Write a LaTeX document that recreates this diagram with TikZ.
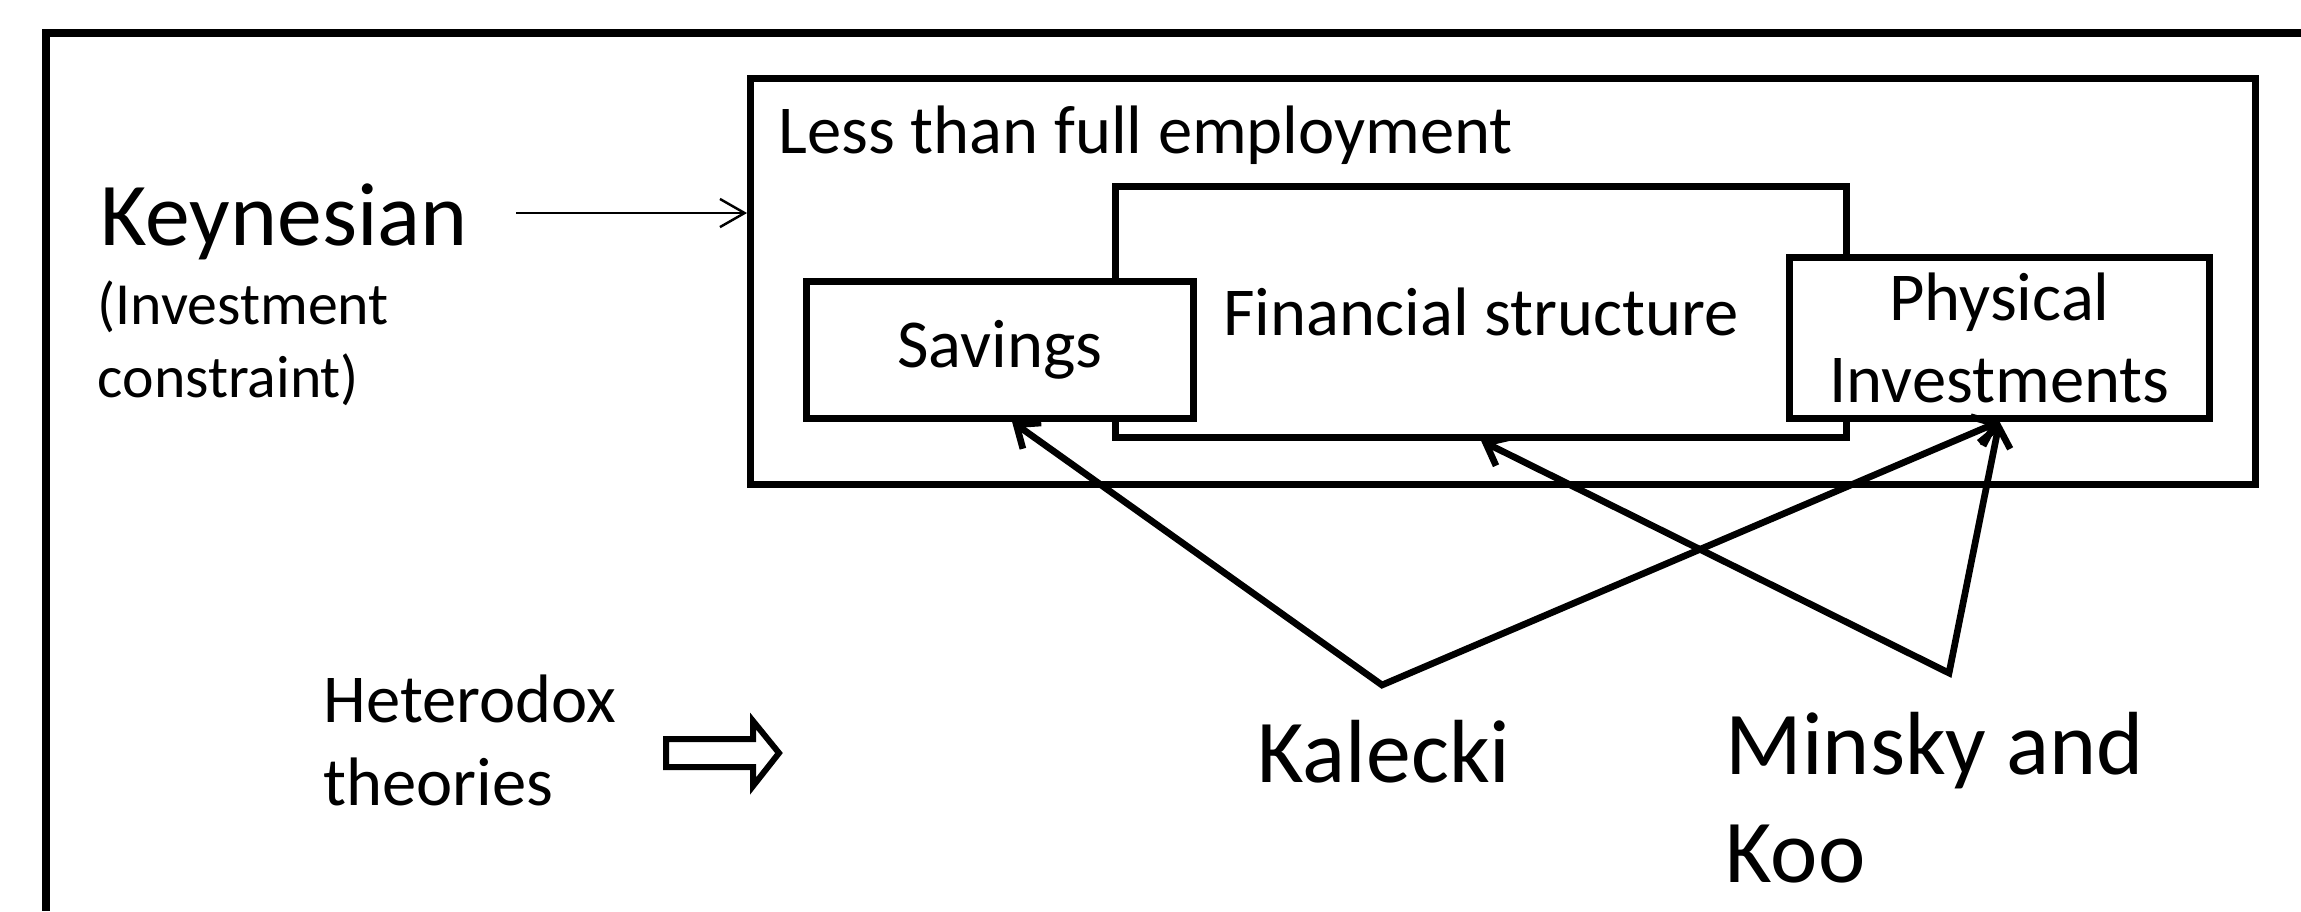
\documentclass[tikz,border=0pt]{standalone}
\usepackage{fontspec}
\setmainfont{Carlito}
\usetikzlibrary{arrows.meta,positioning,calc}
\tikzset{
flow/.style={x=0.01cm,y=-0.01cm,>={Straight Barb[length=5.5pt,width=9pt]},
line join=miter},
frame box/.style={draw,line width=2pt,inner sep=0pt},
theory box/.style={draw,fill=white,line width=2pt,align=center,inner sep=0pt,
font=\fontsize{19.5}{23.4}\selectfont},
big text/.style={inner sep=0pt,align=left,font=\fontsize{25.5}{30.6}\selectfont},
mid text/.style={inner sep=0pt,align=left,font=\fontsize{19.5}{23.4}\selectfont},
small text/.style={inner sep=0pt,align=left,font=\fontsize{17}{20.5}\selectfont},
link/.style={<->,line width=1.9pt},
}

\begin{document}
\begin{tikzpicture}[flow]
    \useasboundingbox (0,0) rectangle (2301,911);
    % outer frame, runs off to the right and bottom
    \draw[line width=2.1pt] (2301,33) -- (46,33) -- (46,911);

    \node[frame box,minimum width=15.04cm,minimum height=4.05cm] (lfe) at (1503,281.5) {};
    \node[mid text,anchor=base west,xshift=3.1mm,yshift=-7.8mm] (lfetext) at (lfe.north west) {Less than full employment};

    \node[theory box,minimum width=7.3cm,minimum height=2.5cm] (fin) at (1481,312) {Financial structure};
    \node[theory box,minimum width=3.86cm,minimum height=1.36cm] (sav) at (1000,350) {Savings};
    \node[theory box,minimum width=4.19cm,minimum height=1.6cm] (phys) at (1999.5,338) {Physical\\Investments};

    % multi-line nodes sit on the baseline of their last line
    \node[big text,anchor=base west] (keyn) at (100,245) {Keynesian};
    \node[small text,anchor=base west] (keynsub) at (97,397) {(Investment\\constraint)};
    \coordinate (keynarrow) at (516,213);
    \draw[-{Straight Barb[length=7pt,width=8pt]},line width=0.7pt] (keynarrow) -- (keynarrow -| lfe.west);

    \node[mid text,anchor=base west] (het) at (323,805) {Heterodox\\theories};
    % hollow block arrow
    \draw[line width=1.7pt] (666,739) -- (753,739) -- (753,721) -- (779,753)
        -- (753,786) -- (753,767) -- (666,767) -- cycle;

    \node[big text,anchor=base west] (kal) at (1257,782) {Kalecki};
    \node[big text,anchor=base west] (min) at (1725,882) {Minsky and\\Koo};
    \coordinate (kalapex) at (1382,685);
    \coordinate (minapex) at (1949,673);

    \draw[link] ([xshift=1.2mm]sav.south) -- (kalapex) -- (phys.south);
    \draw[link] (fin.south) -- (minapex) -- (phys.south);
\end{tikzpicture}
\end{document}
